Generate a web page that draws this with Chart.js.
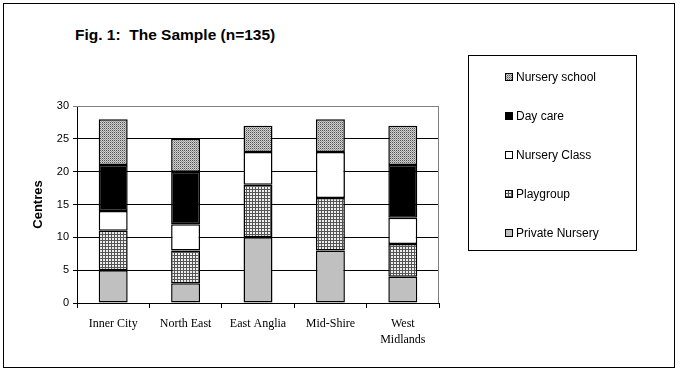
<!DOCTYPE html>
<html>
<head>
<meta charset="utf-8">
<script src="https://cdn.jsdelivr.net/npm/chart.js@4"></script>
<style>
  body { margin: 0; background: #fff; }
  #wrap { position: relative; width: 680px; height: 372px; }
  #frame { position: absolute; left: 3px; top: 3px; width: 672px; height: 365px; border: 1px solid #000; box-sizing: border-box; }
  #title { position: absolute; left: 75px; top: 26px; font: bold 15.5px "Liberation Sans", Arial, sans-serif; white-space: pre; }
  #legend { position: absolute; left: 468px; top: 55px; width: 169px; height: 196px; border: 1px solid #000; box-sizing: border-box; }
  .item { position: absolute; left: 47px; font: 12px "Liberation Sans", Arial, sans-serif; line-height: 14px; }
  .item canvas { position: absolute; left: -11px; top: 3px; }
  #chart { position: absolute; left: 0; top: 0; }
</style>
</head>
<body>
<div id="wrap">
  <div id="frame"></div>
  <div id="title">Fig. 1:  The Sample (n=135)</div>
  <canvas id="chart" width="680" height="372"></canvas>
  <div id="legend"></div>
</div>
<script>
// ---------- DATA ----------
const regions = ["Inner City", "North East", "East Anglia", "Mid-Shire", ["West", "Midlands"]];
const privateNursery = [5, 3, 10, 8, 4];
const playgroup = [6, 5, 8, 8, 5];
const nurseryClass = [3, 4, 5, 7, 4];
const dayCare = [7, 8, 0, 0, 8];
const nurserySchool = [7, 5, 4, 5, 6];
const yTicks = [0, 5, 10, 15, 20, 25, 30];

// ---------- PATTERNS ----------
function makeTile(size, draw) {
    const c = document.createElement("canvas");
    c.width = size; c.height = size;
    draw(c.getContext("2d"));
    return c;
}

const dotTile = makeTile(2, g => {
    g.fillStyle = "#d0d0d0"; g.fillRect(0, 0, 2, 2);
    g.fillStyle = "#555"; g.fillRect(0, 0, 1, 1);
    g.fillStyle = "#999"; g.fillRect(1, 1, 1, 1);
});
const gridTile = makeTile(3, g => {
    g.fillStyle = "#eee"; g.fillRect(0, 0, 3, 3);
    g.fillStyle = "#555"; g.fillRect(0, 0, 3, 1); g.fillRect(0, 0, 1, 3);
});

const ctx = document.getElementById("chart").getContext("2d");
const dotPattern = ctx.createPattern(dotTile, "repeat");
const gridPattern = ctx.createPattern(gridTile, "repeat");

const series = [
    { label: "Private Nursery", data: privateNursery, fill: "#c0c0c0" },
    { label: "Playgroup", data: playgroup, fill: gridPattern, tile: gridTile },
    { label: "Nursery Class", data: nurseryClass, fill: "#ffffff" },
    { label: "Day care", data: dayCare, fill: "#000000" },
    { label: "Nursery school", data: nurserySchool, fill: dotPattern, tile: dotTile }
];

// gray border on top and right of the plot
const plotFrame = {
    id: "plotFrame",
    afterDraw(chart) {
        const a = chart.chartArea, g = chart.ctx;
        g.save();
        g.strokeStyle = "#808080";
        g.lineWidth = 1;
        g.beginPath();
        g.moveTo(a.left, a.top + 0.5);
        g.lineTo(a.right - 0.5, a.top + 0.5);
        g.lineTo(a.right - 0.5, a.bottom);
        g.stroke();
        g.restore();
    }
};

new Chart(ctx, {
    type: "bar",
    data: {
        labels: regions,
        datasets: series.map(s => ({
            label: s.label,
            data: s.data,
            backgroundColor: s.fill,
            borderColor: "#000",
            borderWidth: 1.5,
            borderSkipped: false,
            categoryPercentage: 1,
            barPercentage: 0.4
        }))
    },
    options: {
        responsive: false,
        animation: false,
        layout: { padding: { left: 20, right: 241, top: 106, bottom: 24 } },
        plugins: { legend: { display: false }, tooltip: { enabled: false } },
        scales: {
            x: {
                stacked: true,
                afterFit: s => { s.height = 45; },
                grid: { offset: true, drawOnChartArea: false, drawTicks: true, tickLength: 5, color: "#000" },
                border: { color: "#000" },
                ticks: { color: "#000", font: { family: "Liberation Serif", size: 12, lineHeight: 1.35 }, padding: 8, maxRotation: 0 }
            },
            y: {
                stacked: true,
                min: 0, max: 30,
                afterFit: s => { s.width = 57; },
                afterBuildTicks: s => { s.ticks = yTicks.map(v => ({ value: v })); },
                grid: {
                    color: c => c.tick && c.tick.value === 30 ? "#808080" : "#000",
                    tickLength: 4
                },
                border: { color: "#000" },
                ticks: { color: "#000", font: { family: "Liberation Sans", size: 11 }, padding: 4 },
                title: { display: true, text: "Centres", color: "#000", font: { family: "Liberation Sans", size: 13, weight: "bold" }, padding: 11 }
            }
        }
    },
    plugins: [plotFrame]
});

// ---------- LEGEND ----------
const legend = document.getElementById("legend");
series.slice().reverse().forEach((s, i) => {
    const div = document.createElement("div");
    div.className = "item";
    div.style.top = (14 + i * 39) + "px";
    const sw = document.createElement("canvas");
    sw.width = 8; sw.height = 8;
    const g = sw.getContext("2d");
    g.fillStyle = s.tile ? g.createPattern(s.tile, "repeat") : s.fill;
    g.fillRect(0, 0, 8, 8);
    g.strokeStyle = "#000";
    g.strokeRect(0.5, 0.5, 7, 7);
    div.appendChild(sw);
    div.appendChild(document.createTextNode(s.label));
    legend.appendChild(div);
});
</script>
</body>
</html>
